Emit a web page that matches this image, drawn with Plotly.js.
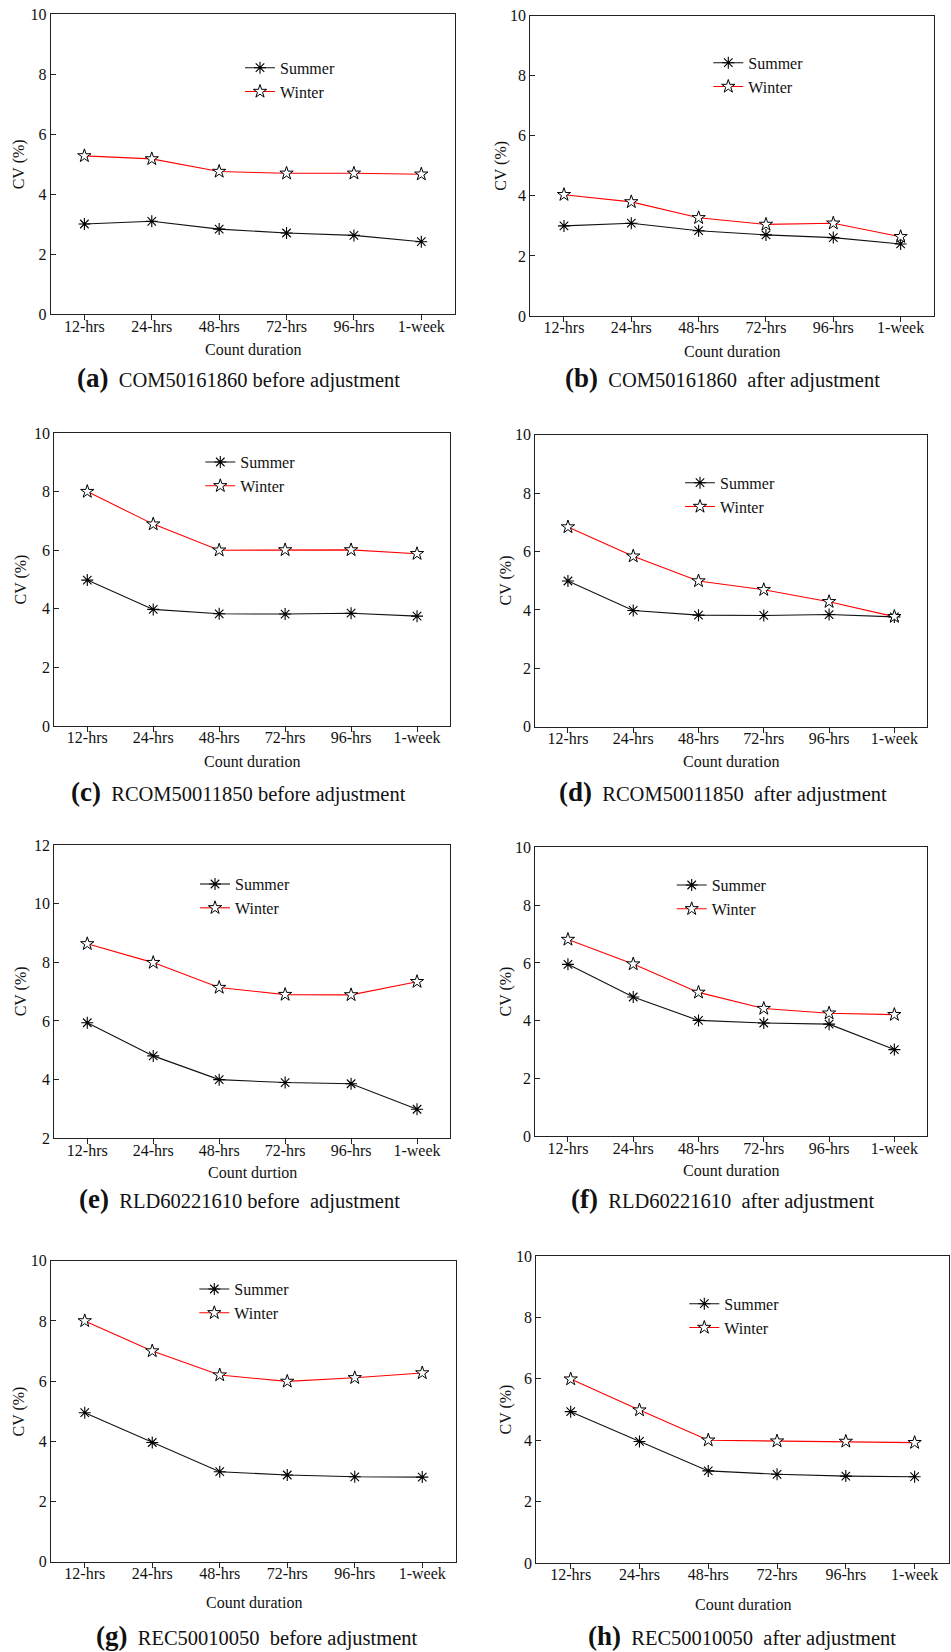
<!DOCTYPE html>
<html>
<head>
<meta charset="utf-8">
<script src="https://cdn.plot.ly/plotly-3.0.1.min.js"></script>
<style>html,body{margin:0;padding:0;background:#fff;}#chart{width:951px;height:1652px;}</style>
</head>
<body>
<div id="chart"></div>
<script>
// ---- data ----
const categories = ['12-hrs', '24-hrs', '48-hrs', '72-hrs', '96-hrs', '1-week'];
const seriesNames = ['Summer', 'Winter'];

const summerA = [3.01, 3.10, 2.84, 2.71, 2.63, 2.42];
const winterA = [5.28, 5.18, 4.76, 4.70, 4.70, 4.67];
const summerB = [3.00, 3.09, 2.84, 2.70, 2.61, 2.40];
const winterB = [4.04, 3.80, 3.27, 3.05, 3.09, 2.64];
const summerC = [4.98, 3.98, 3.83, 3.82, 3.85, 3.75];
const winterC = [8.00, 6.89, 6.00, 6.01, 6.01, 5.88];
const summerD = [4.99, 3.98, 3.82, 3.81, 3.84, 3.76];
const winterD = [6.84, 5.84, 4.99, 4.69, 4.28, 3.77];
const summerE = [5.94, 4.81, 4.00, 3.90, 3.86, 2.99];
const winterE = [8.63, 7.99, 7.14, 6.90, 6.89, 7.34];
const summerF = [5.95, 4.82, 4.01, 3.92, 3.88, 3.00];
const winterF = [6.81, 5.96, 4.98, 4.42, 4.26, 4.21];
const summerG = [4.95, 3.96, 2.99, 2.88, 2.82, 2.81];
const winterG = [8.00, 7.00, 6.20, 5.99, 6.11, 6.27];
const summerH = [4.93, 3.96, 3.00, 2.89, 2.83, 2.81];
const winterH = [5.99, 4.98, 4.00, 3.97, 3.96, 3.92];

const panelLetters = ['a', 'b', 'c', 'd', 'e', 'f', 'g', 'h'];
const panelCaptions = [
  'COM50161860 before adjustment',
  'COM50161860\u00a0 after adjustment',
  'RCOM50011850 before adjustment',
  'RCOM50011850\u00a0 after adjustment',
  'RLD60221610 before\u00a0 adjustment',
  'RLD60221610\u00a0 after adjustment',
  'REC50010050\u00a0 before adjustment',
  'REC50010050\u00a0 after adjustment'
];
const xTitles = ['Count duration', 'Count duration', 'Count duration', 'Count duration',
                 'Count durtion', 'Count duration', 'Count duration', 'Count duration'];
const yTitle = 'CV (%)';
const yRanges = [[0, 10], [0, 10], [0, 10], [0, 10], [2, 12], [0, 10], [0, 10], [0, 10]];

const summerSeries = [summerA, summerB, summerC, summerD, summerE, summerF, summerG, summerH];
const winterSeries = [winterA, winterB, winterC, winterD, winterE, winterF, winterG, winterH];

// ---- layout geometry (pixels) ----
const W = 951, H = 1652;
// [left, right, top, bottom] of each plot frame
const frames = [
  [50.7, 455, 14.3, 314.3],
  [530.3, 934.3, 15.7, 316],
  [54.3, 450, 433, 726],
  [535.3, 927, 434.7, 726.7],
  [54.3, 450, 845, 1138.3],
  [535.3, 927, 847.3, 1136.3],
  [51, 456, 1260.7, 1561.7],
  [536.3, 949, 1256, 1563]
];
// legend: [line start x, first row y]
const legendPos = [
  [245, 67.7], [713.3, 62.7], [205.3, 462], [685, 482.7],
  [200, 884], [676.7, 885], [199.3, 1289], [689.3, 1303.7]
];
// caption center [x, y]
const captionPos = [
  [238, 378], [722, 377.7], [238.3, 792], [722.8, 792],
  [239.7, 1199.3], [722, 1199.3], [256.5, 1636], [742, 1636]
];
const xTitleY = [349, 351.7, 761.7, 761.7, 1172.7, 1170.7, 1602.7, 1604];
const yTitleX = [19, 501, 20, 505.7, 20.7, 505.7, 19.3, 505];

const FONT = 'Liberation Serif, Times New Roman, serif';
const fx = p => p / W;
const fy = p => 1 - p / H;

const traces = [];
const layout = {
  width: W, height: H,
  margin: {l: 0, r: 0, t: 0, b: 0},
  paper_bgcolor: '#fff', plot_bgcolor: '#fff',
  font: {family: FONT, size: 16, color: '#111'},
  showlegend: true,
  annotations: []
};

for (let i = 0; i < 8; i++) {
  const n = i + 1;
  const xa = n === 1 ? 'x' : 'x' + n;
  const ya = n === 1 ? 'y' : 'y' + n;
  const lg = n === 1 ? 'legend' : 'legend' + n;
  const [l, r, t, b] = frames[i];

  traces.push({
    type: 'scatter', mode: 'lines+markers', name: seriesNames[0],
    x: categories, y: summerSeries[i], xaxis: xa, yaxis: ya, legend: lg,
    line: {color: '#111', width: 1.1},
    marker: {symbol: 'asterisk-open', size: 10, color: '#000', line: {color: '#000', width: 1.1}},
    cliponaxis: false
  });
  traces.push({
    type: 'scatter', mode: 'lines+markers', name: seriesNames[1],
    x: categories, y: winterSeries[i], xaxis: xa, yaxis: ya, legend: lg,
    line: {color: '#ff0000', width: 1.1},
    marker: {symbol: 'star', size: 10, color: '#fff', line: {color: '#000', width: 1}},
    cliponaxis: false
  });

  const axCommon = {
    showgrid: false, zeroline: false, showline: true, mirror: true,
    linecolor: '#222', linewidth: 1, tickcolor: '#222', tickwidth: 1,
    tickfont: {family: FONT, size: 16, color: '#111'}
  };
  layout['xaxis' + (n === 1 ? '' : n)] = Object.assign({}, axCommon, {
    domain: [fx(l), fx(r)], anchor: ya, type: 'category',
    range: [-0.5, 5.5], ticks: 'outside', ticklen: 5, ticklabelstandoff: -8
  });
  layout['yaxis' + (n === 1 ? '' : n)] = Object.assign({}, axCommon, {
    domain: [fy(b), fy(t)], anchor: xa,
    range: yRanges[i], dtick: 2, ticks: 'inside', ticklen: 5
  });

  layout[lg] = {
    x: fx(legendPos[i][0] - 5), y: fy(legendPos[i][1] - 16.9),
    xanchor: 'left', yanchor: 'top', bgcolor: 'rgba(0,0,0,0)', borderwidth: 0,
    font: {family: FONT, size: 16, color: '#111'}, itemwidth: 30, tracegroupgap: 0
  };

  layout.annotations.push({
    xref: 'paper', yref: 'paper', x: fx((l + r) / 2), y: fy(xTitleY[i]),
    xanchor: 'center', yanchor: 'middle', showarrow: false,
    text: xTitles[i], font: {family: FONT, size: 16, color: '#111'}
  });
  layout.annotations.push({
    xref: 'paper', yref: 'paper', x: fx(yTitleX[i]), y: fy((t + b) / 2),
    xanchor: 'center', yanchor: 'middle', showarrow: false, textangle: -90,
    text: yTitle, font: {family: FONT, size: 16, color: '#111'}
  });
  layout.annotations.push({
    xref: 'paper', yref: 'paper', x: fx(captionPos[i][0]), y: fy(captionPos[i][1]),
    xanchor: 'center', yanchor: 'middle', showarrow: false,
    text: '<span style="font-size:27px"><b>(' + panelLetters[i] + ')</b></span>\u00a0 ' + panelCaptions[i],
    font: {family: FONT, size: 20.5, color: '#111'}
  });
}

Plotly.newPlot('chart', traces, layout, {staticPlot: true, displayModeBar: false});
</script>
</body>
</html>
